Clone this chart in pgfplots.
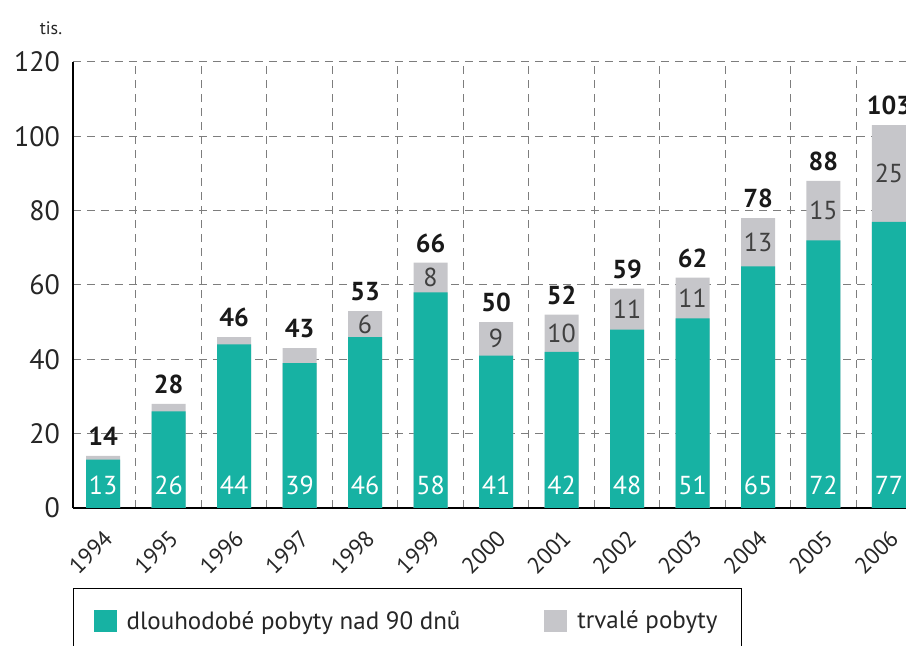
\documentclass[border=0pt]{standalone}
\usepackage{fontspec}
\setmainfont{PT Sans}
\usepackage{pgfplots}
\usepackage{pgfplotstable}
\pgfplotsset{compat=1.18}
\definecolor{tealbar}{RGB}{23,178,163}
\definecolor{greybar}{RGB}{198,198,202}
\definecolor{gridgrey}{RGB}{125,125,125}

% a = dlouhodobe pobyty, tot = celkem, lb = trvale pobyty (popisek)
\pgfplotstableread{
year a tot lb
1994 13 14 {}
1995 26 28 {}
1996 44 46 {}
1997 39 43 {}
1998 46 53 6
1999 58 66 8
2000 41 50 9
2001 42 52 10
2002 48 59 11
2003 51 62 11
2004 65 78 13
2005 72 88 15
2006 77 103 25
}\datatable

\begin{document}
\begin{tikzpicture}
\useasboundingbox (-36.5pt,-69pt) rectangle (416.5pt,254pt);
\begin{axis}[
    at={(0,0)}, anchor=south west,
    scale only axis, width=416.5pt, height=223pt,
    xmin=1993.54, xmax=2006.26, ymin=0, ymax=120,
    axis lines*=left,
    axis line style={line width=0.8pt, black},
    ytick={0,20,...,120},
    xtick={1994,...,2006},
    minor xtick={1994.5,1995.5,...,2005.5},
    ymajorgrids, xminorgrids,
    grid style={gridgrey, line width=0.5pt, dash pattern=on 4pt off 3pt},
    major tick length=0pt, minor tick length=0pt,
    /pgf/number format/assume math mode=true,
    /pgf/number format/1000 sep={},
    yticklabel style={font=\fontsize{14}{14}\selectfont, text=black!85, xshift=-3pt},
    xticklabel style={font=\fontsize{11.5}{11.5}\selectfont, rotate=45, anchor=north east,
        text=black!85, xshift=-4pt, yshift=-3.5pt},
    clip mode=individual,
    reverse legend,
    legend columns=2,
    legend image code/.code={\fill[#1] (0pt,-5.5pt) rectangle (11.5pt,5.5pt);},
    legend style={at={(0,0)}, anchor=north west, yshift=-40pt,
        draw=black, line width=0.7pt, text=black!85,
        font=\fontsize{12.5}{12.5}\selectfont,
        inner xsep=10pt, inner ysep=9pt, cells={anchor=west},
        /tikz/every odd column/.append style={column sep=3pt},
        /tikz/every even column/.append style={column sep=40pt}},
]
% trvale pobyty (cela vyska sloupce)
\addplot[ybar, bar width=17pt, bar shift=0pt, fill=greybar, draw=none]
    table[x=year, y=tot] \datatable;
\addlegendentry{trvalé pobyty}
% dlouhodobe pobyty
\addplot[ybar, bar width=17pt, bar shift=0pt, fill=tealbar, draw=none]
    table[x=year, y=a] \datatable;
\addlegendentry{dlouhodobé pobyty nad 90 dnů}

% popisky
\addplot[draw=none, forget plot, nodes near coords, point meta=explicit symbolic,
    every node near coord/.append style={anchor=center, text=white, font=\fontsize{13}{13}\selectfont}]
    table[x=year, y expr=6.2, meta=a] \datatable;
\addplot[draw=none, forget plot, nodes near coords, point meta=explicit symbolic,
    every node near coord/.append style={anchor=center, text=black!75, font=\fontsize{13}{13}\selectfont}]
    table[x=year, y expr=(\thisrow{a}+\thisrow{tot})/2, meta=lb] \datatable;
\addplot[draw=none, forget plot, nodes near coords, point meta=explicit symbolic,
    every node near coord/.append style={anchor=south, yshift=1.5pt, text=black!90, font=\fontsize{13}{13}\selectfont\bfseries}]
    table[x=year, y=tot, meta=tot] \datatable;
\end{axis}
\node[font=\fontsize{9}{9}\selectfont, text=black!85] at (-11pt,240pt) {tis.};
\end{tikzpicture}
\end{document}
